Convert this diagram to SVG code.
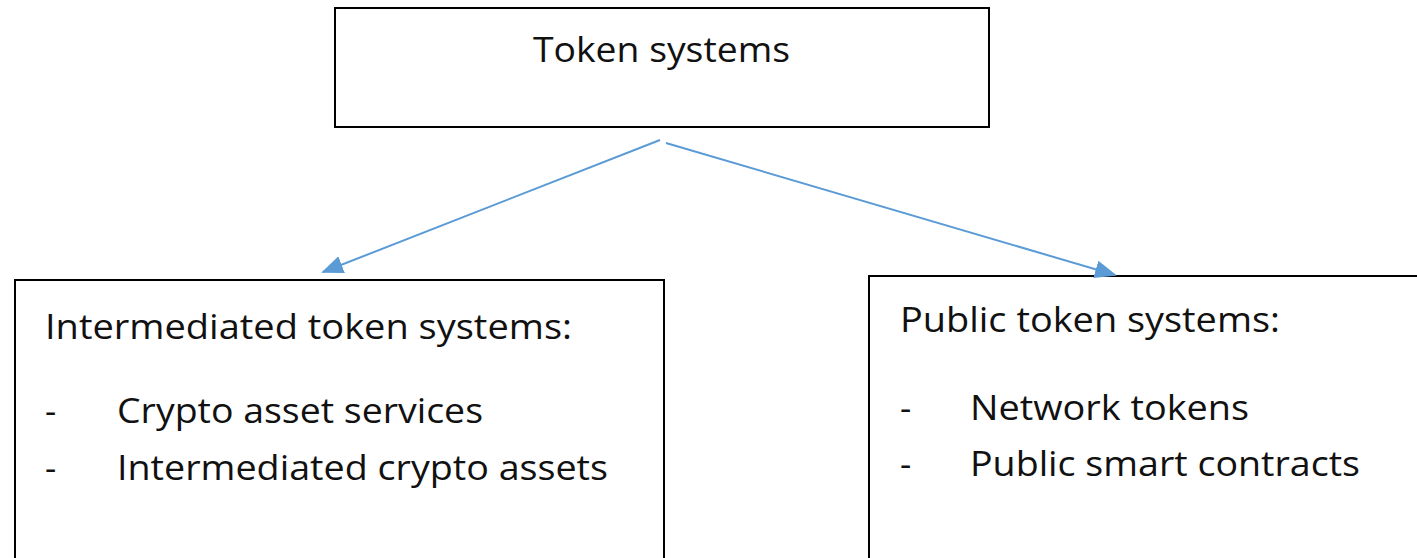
<svg xmlns="http://www.w3.org/2000/svg" width="1417" height="558" viewBox="0 0 1417 558">
  <style>
    .box { fill: #ffffff; stroke: #000000; stroke-width: 2; }
    .lbl { font-family: "Open Sans", "Liberation Sans", sans-serif; font-size: 35px; fill: #111111; }
    .edge { stroke: #5b9bd5; stroke-width: 2; fill: none; }
  </style>
  <defs>
    <marker id="arrow" viewBox="0 0 22 18" refX="20" refY="9" markerWidth="22" markerHeight="18" markerUnits="userSpaceOnUse" orient="auto">
      <path d="M0,0 L22,9 L0,18 Z" fill="#5b9bd5"/>
    </marker>
  </defs>
  <rect width="1417" height="558" fill="#ffffff"/>

  <g id="token-systems">
    <rect class="box" x="335" y="8" width="654" height="119"/>
    <text class="lbl" x="533" y="62" textLength="257" lengthAdjust="spacingAndGlyphs">Token systems</text>
  </g>

  <g id="intermediated">
    <rect class="box" x="15" y="280" width="649" height="290"/>
    <text class="lbl" x="45" y="339" textLength="527" lengthAdjust="spacingAndGlyphs">Intermediated token systems:</text>
    <text class="lbl" x="45" y="423">-</text>
    <text class="lbl" x="117" y="423" textLength="366" lengthAdjust="spacingAndGlyphs">Crypto asset services</text>
    <text class="lbl" x="45" y="480">-</text>
    <text class="lbl" x="117" y="480" textLength="491" lengthAdjust="spacingAndGlyphs">Intermediated crypto assets</text>
  </g>

  <g id="public">
    <rect class="box" x="869" y="276" width="560" height="295"/>
    <text class="lbl" x="900" y="332" textLength="380" lengthAdjust="spacingAndGlyphs">Public token systems:</text>
    <text class="lbl" x="900" y="420">-</text>
    <text class="lbl" x="970" y="420" textLength="279" lengthAdjust="spacingAndGlyphs">Network tokens</text>
    <text class="lbl" x="900" y="476">-</text>
    <text class="lbl" x="970" y="476" textLength="390" lengthAdjust="spacingAndGlyphs">Public smart contracts</text>
  </g>

  <g id="connectors">
    <line class="edge" x1="660" y1="140" x2="323" y2="272" marker-end="url(#arrow)"/>
    <line class="edge" x1="666" y1="143" x2="1115" y2="275" marker-end="url(#arrow)"/>
  </g>
</svg>
